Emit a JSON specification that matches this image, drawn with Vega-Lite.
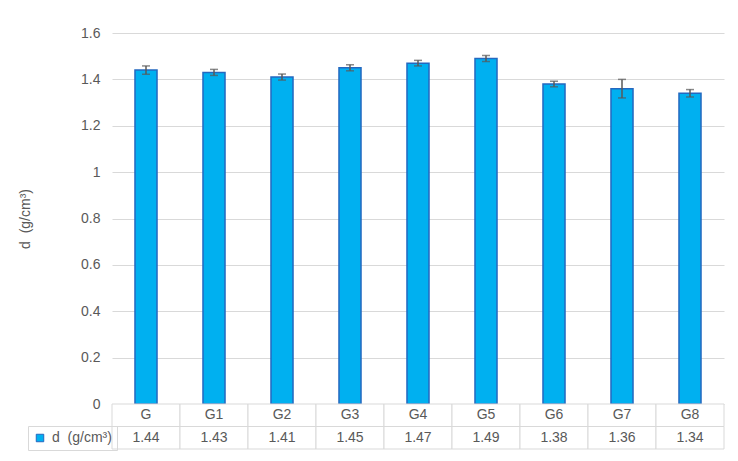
{
  "$schema": "https://vega.github.io/schema/vega-lite/v6.json",
  "padding": {"left": 18, "top": 26, "right": 10, "bottom": 5},
  "data": {
    "values": [
      {"g": "G", "d": 1.44, "err": 0.018},
      {"g": "G1", "d": 1.43, "err": 0.013},
      {"g": "G2", "d": 1.41, "err": 0.013},
      {"g": "G3", "d": 1.45, "err": 0.013},
      {"g": "G4", "d": 1.47, "err": 0.012},
      {"g": "G5", "d": 1.49, "err": 0.013},
      {"g": "G6", "d": 1.38, "err": 0.012},
      {"g": "G7", "d": 1.36, "err": 0.04},
      {"g": "G8", "d": 1.34, "err": 0.016}
    ]
  },
  "spacing": 0,
  "bounds": "flush",
  "vconcat": [
    {
      "width": 612,
      "height": 371,
      "encoding": {
        "x": {
          "field": "g",
          "type": "nominal",
          "sort": null,
          "axis": null,
          "scale": {"paddingInner": 0.676, "paddingOuter": 0.338}
        }
      },
      "layer": [
        {
          "mark": {"type": "bar", "stroke": "#2468C0", "strokeWidth": 1.5},
          "encoding": {
            "y": {
              "field": "d",
              "type": "quantitative",
              "title": "d\u00a0 (g/cm³)",
              "scale": {"domain": [0, 1.6], "nice": false},
              "axis": {
                "values": [0, 0.2, 0.4, 0.6, 0.8, 1, 1.2, 1.4, 1.6],
                "format": ".1~f",
                "titleFontWeight": "normal",
                "titleFontSize": 14,
                "titleColor": "#595959",
                "titlePadding": 48,
                "labelFontSize": 14,
                "labelColor": "#595959",
                "labelPadding": 12,
                "ticks": false,
                "domain": false,
                "gridColor": "#d9d9d9"
              }
            },
            "color": {
              "datum": "d\u00a0 (g/cm³)",
              "type": "nominal",
              "scale": {"range": ["#00B0F0"]},
              "legend": {
                "title": null,
                "orient": "none",
                "legendX": -84,
                "legendY": 393,
                "symbolType": "square",
                "symbolSize": 56,
                "symbolStrokeColor": "#2468C0",
                "symbolStrokeWidth": 1,
                "labelFontSize": 14,
                "labelColor": "#595959",
                "labelOffset": 5,
                "padding": 5,
                "strokeColor": "#d9d9d9"
              }
            }
          }
        },
        {
          "mark": {"type": "errorbar", "ticks": true, "size": 8, "thickness": 1.5, "color": "#595959"},
          "encoding": {
            "y": {"field": "d", "type": "quantitative", "title": "d\u00a0 (g/cm³)"},
            "yError": {"field": "err"}
          }
        }
      ]
    },
    {
      "width": 612,
      "height": 45,
      "encoding": {
        "x": {
          "field": "g",
          "type": "nominal",
          "sort": null,
          "axis": null,
          "scale": {"padding": 0}
        }
      },
      "layer": [
        {
          "mark": {"type": "rect", "fill": "white", "stroke": "#d9d9d9", "strokeWidth": 1},
          "encoding": {"y": {"datum": "cat", "type": "nominal", "scale": {"domain": ["cat", "val"], "padding": 0}, "axis": null}}
        },
        {
          "mark": {"type": "rect", "fill": "white", "stroke": "#d9d9d9", "strokeWidth": 1},
          "encoding": {"y": {"datum": "val", "type": "nominal"}}
        },
        {
          "mark": {"type": "text", "fontSize": 14, "color": "#595959"},
          "encoding": {"y": {"datum": "cat", "type": "nominal"}, "text": {"field": "g"}}
        },
        {
          "mark": {"type": "text", "fontSize": 14, "color": "#595959"},
          "encoding": {"y": {"datum": "val", "type": "nominal"}, "text": {"field": "d", "format": ".2f"}}
        }
      ]
    }
  ],
  "config": {
    "font": "Liberation Sans",
    "view": {"stroke": null},
    "axis": {"labelFont": "Liberation Sans", "titleFont": "Liberation Sans"},
    "legend": {"labelFont": "Liberation Sans"}
  }
}
